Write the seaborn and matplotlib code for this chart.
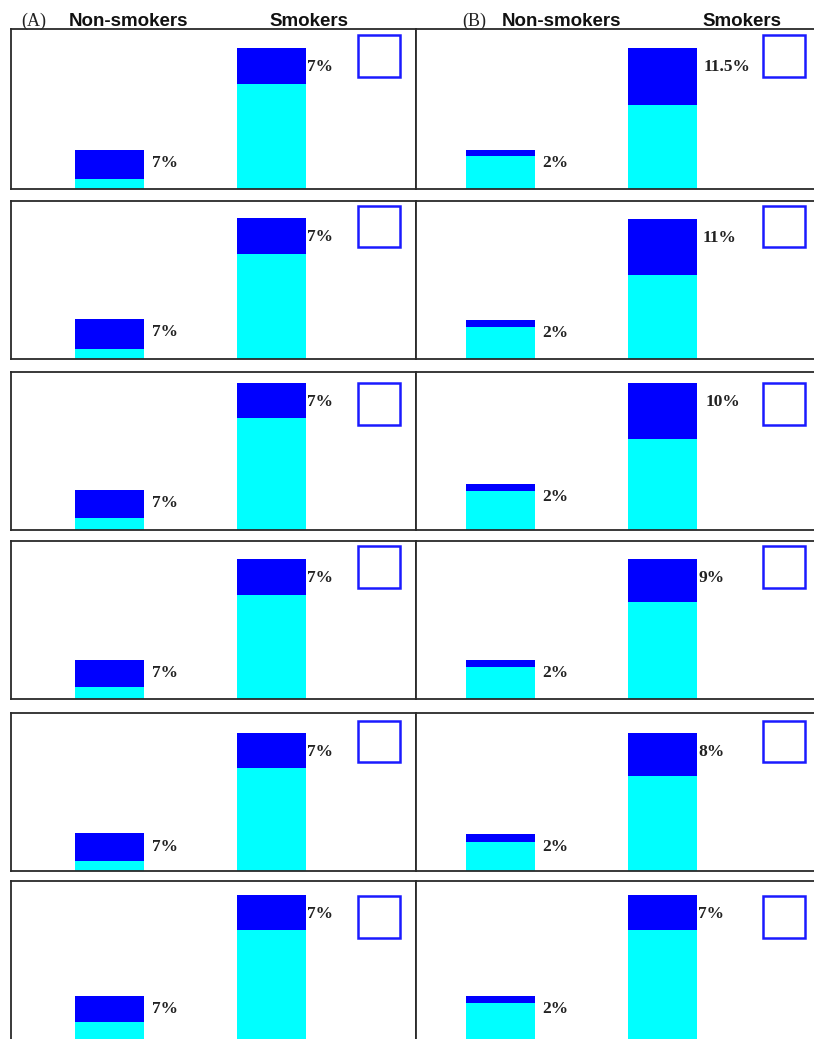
import matplotlib
matplotlib.use('Agg')
import matplotlib.pyplot as plt
import matplotlib.patches as mpatches
import seaborn as sns

# data: bar heights per row (schematic units, panel height ~159)
categories = ['Non-smokers', 'Smokers']

a_non_total = [39, 40, 40, 39.3, 38, 44]
a_non_base = [10, 10.7, 11.7, 12.3, 10.7, 17.6]
a_smk_total = [141, 141, 147.3, 140.3, 138.7, 145]
a_smk_base = [105, 105, 111.7, 104.6, 103, 110]
a_non_labels = ['7%', '7%', '7%', '7%', '7%', '7%']
a_smk_labels = ['7%', '7%', '7%', '7%', '7%', '7%']

b_non_total = [39, 39.3, 46, 39.3, 37.3, 44.3]
b_non_base = [32.5, 32.6, 39.3, 32.6, 29.7, 36.7]
b_smk_total = [141, 140, 147.3, 140.3, 138, 144.7]
b_smk_base = [84, 84, 91.3, 97.6, 95.3, 109.7]
b_non_labels = ['2%', '2%', '2%', '2%', '2%', '2%']
b_smk_labels = ['11.5%', '11%', '10%', '9%', '8%', '7%']

# layout (pixels)
W, H = 814, 1039
row_top = [29.3, 200.7, 371.7, 541, 712.7, 881.3]
row_h = [159.4, 158.6, 158.3, 158.3, 158.6, 158.7]
col_left = [11, 416]
col_w = 405
x_left = [-0.608, -0.522]
box_off = [5.7, 5.3, 11.6, 5, 8, 14.7]
smk_gap = [[1, 1, 1, 1, 1, 1], [7, 6, 9, 1, 1, 1]]

sns.set_style('white')
plt.rcParams['font.family'] = ['Liberation Serif', 'DejaVu Serif']

fig = plt.figure(figsize=(W / 100, H / 100), dpi=100)

columns = [
    (a_non_total, a_non_base, a_smk_total, a_smk_base, a_non_labels, a_smk_labels),
    (b_non_total, b_non_base, b_smk_total, b_smk_base, b_non_labels, b_smk_labels),
]
bw = 0.426
unit = 405 / 2.5  # px per category unit

for c, (nt, nb, st, sb, nl, sl) in enumerate(columns):
    for r in range(6):
        ax = fig.add_axes([col_left[c] / W, 1 - (row_top[r] + row_h[r]) / H,
                           col_w / W, row_h[r] / H])
        sns.barplot(x=categories, y=[nt[r], st[r]], color='#0000FF', saturation=1,
                    width=bw, linewidth=0, ax=ax)
        sns.barplot(x=categories, y=[nb[r], sb[r]], color='#00FFFF', saturation=1,
                    width=bw, linewidth=0, ax=ax)
        ax.set_xlim(x_left[c], x_left[c] + 2.5)
        ax.set_ylim(0, row_h[r])
        ax.set_xticks([])
        ax.set_yticks([])
        ax.set_xlabel('')
        ax.set_ylabel('')
        for s in ax.spines.values():
            s.set_visible(True)
            s.set_color('#2a2a2a')
            s.set_linewidth(1.3)

        ax.text(0 + bw / 2 + 7.5 / unit, nt[r] - 13.2, nl[r], ha='left', va='center',
                fontsize=12.5, fontweight='bold', color='#222222')
        ax.text(1 + bw / 2 + smk_gap[c][r] / unit, st[r] - 19, sl[r], ha='left',
                va='center', fontsize=12.5, fontweight='bold', color='#222222')

        bh = 41.5 / row_h[r]
        ax.add_patch(mpatches.Rectangle((0.857, 1 - box_off[r] / row_h[r] - bh), 0.104, bh,
                                        transform=ax.transAxes, fill=False,
                                        edgecolor='#1a1aff', linewidth=1.8))

        if r == 0:
            yb = 1 + 3.8 / row_h[r]
            ax.text([0.056, 0.143][c], yb, ['(A)', '(B)'][c], transform=ax.transAxes,
                    ha='center', va='baseline', fontsize=13, color='#222222')
            ax.text([0.289, 0.360][c], yb, 'Non-smokers', transform=ax.transAxes,
                    ha='center', va='baseline', fontsize=13.5, fontweight='bold',
                    family=['Liberation Sans', 'DejaVu Sans'], color='#111111')
            ax.text([0.735, 0.806][c], yb, 'Smokers', transform=ax.transAxes,
                    ha='center', va='baseline', fontsize=13.5, fontweight='bold',
                    family=['Liberation Sans', 'DejaVu Sans'], color='#111111')

fig.savefig('out.png', dpi=100)
